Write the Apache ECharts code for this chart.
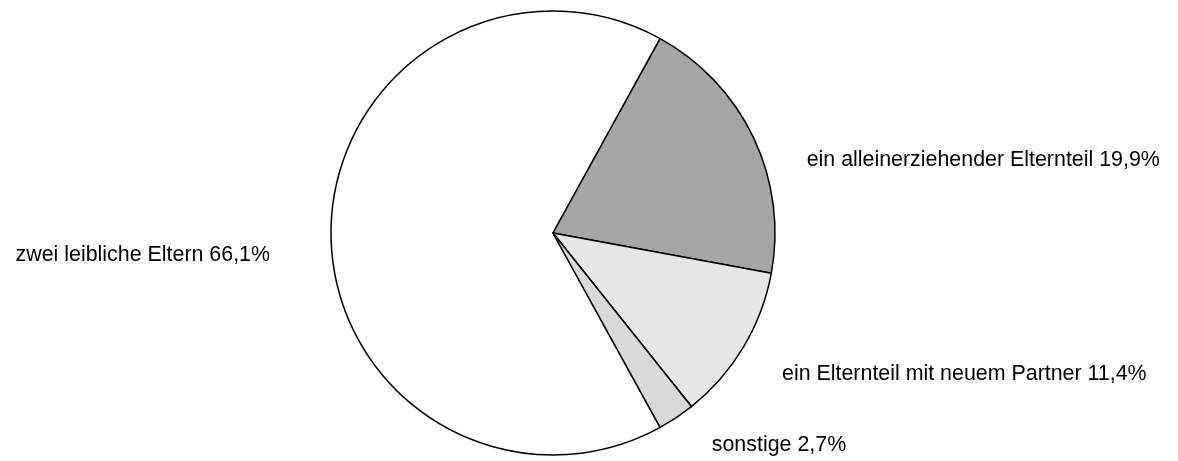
<!DOCTYPE html>
<html>
<head>
<meta charset="utf-8">
<script src="https://cdn.jsdelivr.net/npm/echarts@6/dist/echarts.min.js"></script>
<style>
html,body{margin:0;padding:0;background:#fff;}
#chart{width:1178px;height:461px;}
</style>
</head>
<body>
<div id="chart"></div>
<script>
const categories = ['zwei leibliche Eltern', 'ein alleinerziehender Elternteil', 'ein Elternteil mit neuem Partner', 'sonstige'];
const values = [66.1, 19.9, 11.4, 2.7];
const colors = ['#ffffff', '#a6a6a6', '#e6e6e6', '#d9d9d9'];
const labelShift = [[-36, 22], [29, 26], [15, 22], [15, 19]];

const total = values.reduce((a, b) => a + b, 0);
const startAngle = 180 + (values[0] / total * 360) / 2;

const chart = echarts.init(document.getElementById('chart'));
chart.setOption({
  animation: false,
  backgroundColor: '#ffffff',
  series: [{
    type: 'pie',
    center: [553, 233],
    radius: 222,
    startAngle: startAngle,
    clockwise: true,
    avoidLabelOverlap: false,
    silent: true,
    data: categories.map((c, i) => ({
      name: c,
      value: values[i],
      itemStyle: { color: colors[i] }
    })),
    itemStyle: { borderColor: '#000000', borderWidth: 1.5 },
    label: {
      show: true,
      position: 'outside',
      color: '#000000',
      fontFamily: '"Liberation Sans", Arial, sans-serif',
      fontSize: 21.4,
      formatter: p => p.name + ' ' + p.value.toFixed(1).replace('.', ',') + '%'
    },
    labelLine: { show: false, length: 10, length2: 10 },
    labelLayout: p => ({ dx: labelShift[p.dataIndex][0], dy: labelShift[p.dataIndex][1] })
  }]
});
</script>
</body>
</html>
